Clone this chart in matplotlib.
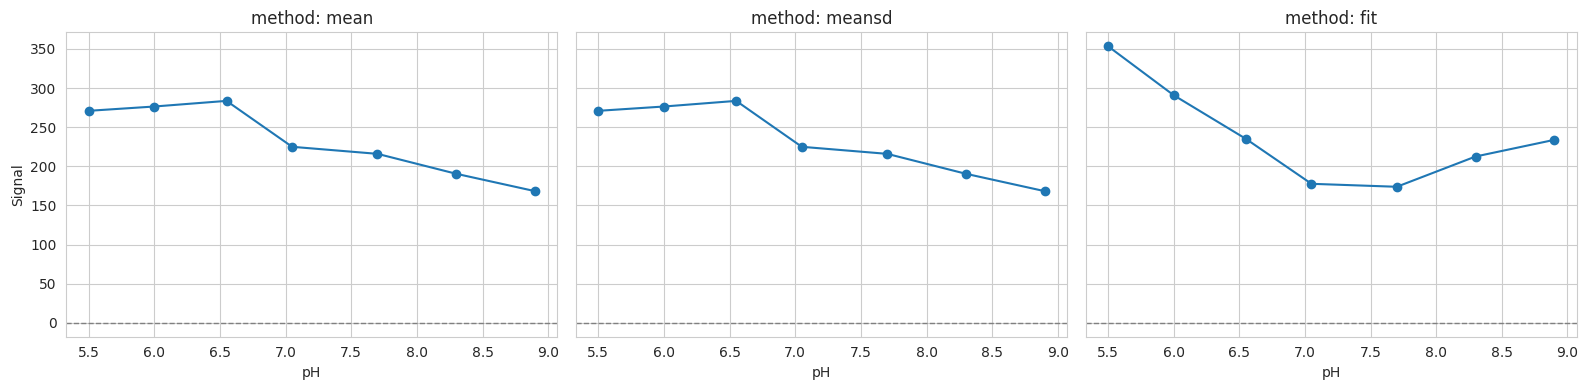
import matplotlib
matplotlib.use("Agg")
import matplotlib.pyplot as plt
import seaborn as sns

sns.set_style("whitegrid")

ph = [5.5, 6.0, 6.55, 7.05, 7.7, 8.3, 8.9]
methods = ["mean", "meansd", "fit"]
signal_mean = [270.9, 276.4, 283.6, 224.9, 215.9, 190.4, 168.2]
signal_meansd = [270.9, 276.4, 283.6, 224.9, 215.9, 190.4, 168.2]
signal_fit = [353.5, 290.9, 235.1, 177.6, 173.8, 212.5, 233.8]
signals = [signal_mean, signal_meansd, signal_fit]

fig, axes = plt.subplots(1, 3, figsize=(15.87, 3.9), sharey=True)
for ax, m, s in zip(axes, methods, signals):
    ax.plot(ph, s, marker="o", color="#1f77b4")
    ax.axhline(0, color="gray", ls="--", lw=1)
    ax.set_title(f"method: {m}")
    ax.set_xlabel("pH")
axes[0].set_ylabel("Signal")

fig.subplots_adjust(left=0.0418, right=0.9935, top=0.917, bottom=0.137, wspace=0.038)
plt.savefig("out.png", dpi=100)
